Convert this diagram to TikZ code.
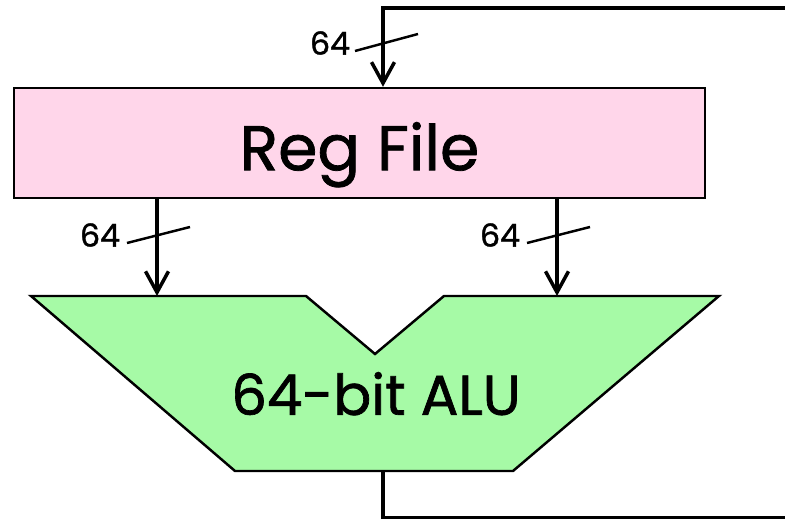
\documentclass[tikz,border=0pt]{standalone}
\usepackage{fontspec}
\setmainfont{Poppins}[FakeBold=1.2]
\usetikzlibrary{arrows.meta}
\definecolor{regpink}{HTML}{FFD6EA}
\definecolor{alugreen}{HTML}{A6FAA6}
\begin{document}
\begin{tikzpicture}[x=0.02cm,y=-0.02cm,line join=miter,
    wire/.style={line width=2pt},
    bus/.style={wire,-{Straight Barb[length=4.2mm,width=4.6mm,line width=2pt]}},
    tick/.style={line width=1.4pt},
    buslabel/.style={font=\fontsize{18}{18}\selectfont}]
  \useasboundingbox (0,0) rectangle (785,519);
  % register file
  \node[draw,line width=1.4pt,fill=regpink,minimum width=13.82cm,minimum height=2.2cm,inner sep=0pt,
        text height=31pt,text depth=0pt,font=\fontsize{36}{36}\selectfont] (rf) at (359.5,143) {Reg File};
  % alu outline
  \draw[line width=1.4pt,fill=alugreen] (31,296) -- (306,296) -- (375,354) -- (444,296) -- (719,296)
     -- (513,471) -- (235,471) -- cycle;
  \node[text height=21.5pt,text depth=0pt,font=\fontsize{32}{32}\selectfont] (alu) at (376,396) {64-bit ALU};
  \coordinate (ina) at (157,296);
  \coordinate (inb) at (557,296);
  \coordinate (out) at (383,471);
  \coordinate (fbin) at (383,88);
  \coordinate (fbtop) at (785,8);
  \coordinate (fbbot) at (785,518);
  % buses
  \draw[bus] (fbtop) -| (rf.north -| fbin);
  \draw[bus] (rf.south -| ina) -- (ina);
  \draw[bus] (rf.south -| inb) -- (inb);
  \draw[wire] (out) |- (fbbot);
  % widths
  \draw[tick] (355,51) -- (418,34);
  \node[buslabel] (wfb) at (330,43) {64};
  \draw[tick] (127,243) -- (190,227);
  \node[buslabel] (wa) at (100,235) {64};
  \draw[tick] (527,243) -- (590,227);
  \node[buslabel] (wb) at (500,235) {64};
\end{tikzpicture}
\end{document}
